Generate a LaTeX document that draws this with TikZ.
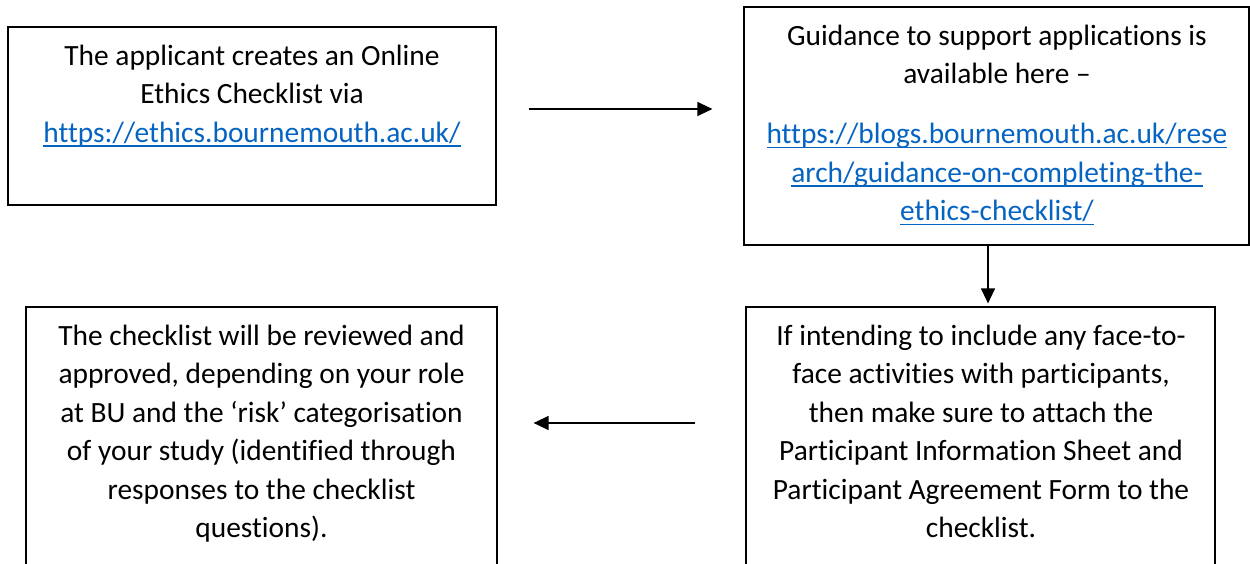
\documentclass[tikz,border=0pt]{standalone}
\usepackage{fontspec}
\setmainfont{Carlito}[Ligatures=NoCommon]
\usetikzlibrary{arrows.meta}
\definecolor{linkblue}{HTML}{0563C1}
\newcommand\lnk[1]{\setbox0\hbox{#1}\rlap{\rule[-4.5pt]{\wd0}{1.4pt}}\box0}
\tikzset{
  box/.style={draw=black, line width=1.2pt, inner sep=0pt, minimum width=#1},
  txt/.style={align=center, inner sep=0pt, anchor=base, font=\fontsize{29.4}{38.5}\selectfont},
  arr/.style={line width=1.3pt, -{Triangle[length=15pt,width=14pt]}}
}
\begin{document}
\begin{tikzpicture}[x=1pt,y=-1pt]
\useasboundingbox (0,0) rectangle (1250,563);
\clip (0,0) rectangle (1250,563);
\node[box=488pt, minimum height=178pt] (b1) at (252,116) {};
\node[box=505pt, minimum height=238pt] (b2) at (996.5,126) {};
\node[box=471pt, minimum height=273pt] (b3) at (261.5,443.5) {};
\node[box=469pt, minimum height=273pt] (b4) at (980.5,443.5) {};
\node[txt] (t1) at (252,142) {The applicant creates an Online\\Ethics Checklist via\\\textcolor{linkblue}{\lnk{https://ethics.bournemouth.ac.uk/}}};
\node[txt] (t2) at (997,220.5) {Guidance to support applications is\\available here –\\[21.5pt]\textcolor{linkblue}{\lnk{https://blogs.bournemouth.ac.uk/rese}}\\\textcolor{linkblue}{\lnk{arch/guidance-on-completing-the-}}\\\textcolor{linkblue}{\lnk{ethics-checklist/}}};
\node[txt] (t3) at (261.5,537.5) {The checklist will be reviewed and\\approved, depending on your role\\at BU and the ‘risk’ categorisation\\of your study (identified through\\responses to the checklist\\questions).};
\node[txt] (t4) at (981,537.5) {If intending to include any face-to-\\face activities with participants,\\then make sure to attach the\\Participant Information Sheet and\\Participant Agreement Form to the\\checklist.};
\draw[arr] ([xshift=32pt,yshift=7pt]b1.east) -- ([xshift=-31pt,yshift=17pt]b2.west);
\draw[arr] ([xshift=-8.5pt]b2.south) -- ([xshift=7.5pt,yshift=3pt]b4.north);
\draw[arr] ([xshift=-50pt,yshift=20.5pt]b4.west) -- ([xshift=36pt,yshift=20.5pt]b3.east);
\end{tikzpicture}
\end{document}
